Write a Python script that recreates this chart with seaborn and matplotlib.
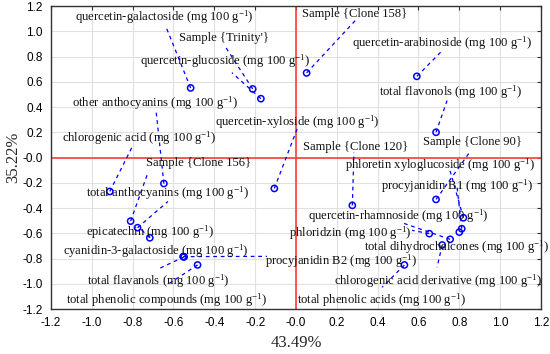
import numpy as np
import pandas as pd
import matplotlib
matplotlib.use("Agg")
import matplotlib.pyplot as plt
import seaborn as sns

U = " (mg 100 g$^{-1}$)"
names = [
    "quercetin-galactoside" + U, "Sample {Trinity'}", "quercetin-glucoside" + U,
    "Sample {Clone 158}", "quercetin-arabinoside" + U, "total flavonols" + U,
    "quercetin-xyloside" + U, "other anthocyanins" + U, "chlorogenic acid" + U,
    "Sample {Clone 156}", "total anthocyanins" + U, "epicatechin" + U,
    "cyanidin-3-galactoside" + U, "procyjanidin B2" + U, "total flavanols" + U,
    "total phenolic compounds" + U, "Sample {Clone 120}", "Sample {Clone 90}",
    "phloretin xyloglucoside" + U, "procyjanidin B1" + U, "quercetin-rhamnoside" + U,
    "phloridzin" + U, "total dihydrochalcones" + U, "chlorogenic acid derivative" + U,
    "total phenolic acids" + U,
]
pc1 = [-0.516, -0.212, -0.172, 0.052, 0.592, 0.686, -0.106, -0.647, -0.912,
       -0.810, -0.776, -0.716, -0.552, -0.552, -0.548, -0.482, 0.276, 0.686,
       0.820, 0.812, 0.755, 0.653, 0.800, 0.716, 0.531]
pc2 = [0.551, 0.543, 0.466, 0.670, 0.643, 0.200, -0.245, -0.206, -0.269,
       -0.504, -0.556, -0.636, -0.785, -0.785, -0.787, -0.851, -0.379, -0.332,
       -0.477, -0.564, -0.648, -0.603, -0.591, -0.693, -0.851]
# label anchor positions
label_x = [-0.647, -0.353, -0.348, 0.289, 0.716, 0.755, 0.005, -0.691, -0.770,
           -0.475, -0.632, -0.716, -0.686, 0.221, -0.676, -0.632, 0.294, 0.863,
           0.706, 0.789, 0.500, 0.265, 0.789, 0.696, 0.417]
label_y = [1.115, 0.949, 0.759, 1.138, 0.909, 0.514, 0.277, 0.427, 0.150,
           -0.047, -0.285, -0.593, -0.743, -0.822, -0.980, -1.130, 0.087, 0.119,
           -0.063, -0.229, -0.466, -0.601, -0.711, -0.980, -1.130]
# leader line ends
line_x = [-0.637, -0.343, -0.314, 0.294, 0.721, 0.740, 0.010, -0.686, -0.804,
          -0.725, -0.627, -0.770, -0.552, -0.142, -0.667, -0.627, 0.284, 0.853,
          0.750, 0.789, 0.529, 0.569, 0.800, 0.691, 0.422]
line_y = [1.036, 0.870, 0.672, 1.091, 0.854, 0.451, 0.245, 0.379, 0.079,
          -0.119, -0.348, -0.553, -0.785, -0.783, -0.877, -1.004, 0.040, 0.047,
          -0.079, -0.237, -0.522, -0.577, -0.591, -0.870, -1.028]

df = pd.DataFrame({"name": names, "pc1": pc1, "pc2": pc2,
                   "lx": label_x, "ly": label_y, "ex": line_x, "ey": line_y})

sns.set_style("whitegrid")
plt.rcParams["font.family"] = ["Liberation Serif", "DejaVu Serif"]
plt.rcParams["mathtext.fontset"] = "custom"
plt.rcParams["mathtext.rm"] = "Liberation Serif"
plt.rcParams["mathtext.it"] = "Liberation Serif:italic"
plt.rcParams["axes.unicode_minus"] = False

fig = plt.figure(figsize=(5.5, 3.54), dpi=100)
ax = fig.add_axes([0.0927, 0.1271, 0.8909, 0.8559])

ax.set_xlim(-1.2, 1.2)
ax.set_ylim(-1.2, 1.2)
ticks = np.round(np.arange(-1.2, 1.21, 0.2), 1)
ax.set_xticks(ticks)
ax.set_yticks(ticks)
ax.set_xticklabels([f"{t:.1f}" for t in ticks], family="Liberation Sans", fontsize=8.5)
ax.set_yticklabels([f"{t:.1f}" for t in ticks], family="Liberation Sans", fontsize=8.5)
ax.grid(True, color="#e0e0e0", linewidth=0.8)
ax.tick_params(direction="in", length=3, width=0.8, top=True, right=True,
               colors="#333333", labelcolor="black", pad=6)
for s in ax.spines.values():
    s.set_color("#333333")
    s.set_linewidth(1.0)

ax.axvline(0, color="#ff3b3b", linewidth=1.2, zorder=2)
ax.axhline(0, color="#ff3b3b", linewidth=1.2, zorder=2)

for _, r in df.iterrows():
    ax.plot([r.pc1, r.ex], [r.pc2, r.ey], color="blue", linestyle=(0, (3, 3)),
            linewidth=0.9, zorder=3)

sns.scatterplot(data=df, x="pc1", y="pc2", ax=ax, marker="o", s=20,
                facecolor="none", edgecolor="blue", linewidth=1.1, zorder=4,
                legend=False)

for _, r in df.iterrows():
    ax.text(r.lx, r.ly, r["name"], ha="center", va="center", fontsize=9.1,
            color="#111111", zorder=5)

ax.set_xlabel("43.49%", fontsize=12, labelpad=4)
ax.set_ylabel("35.22%", fontsize=12, labelpad=1)

fig.savefig("out.png", dpi=100)
